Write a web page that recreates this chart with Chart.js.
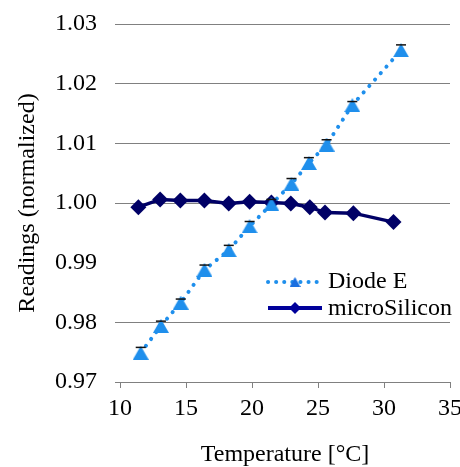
<!DOCTYPE html>
<html>
<head>
<meta charset="utf-8">
<script src="https://cdn.jsdelivr.net/npm/chart.js@4.4.1/dist/chart.umd.min.js"></script>
<style>
  html, body { margin: 0; padding: 0; background: #fff; }
  #wrap { width: 460px; height: 467px; }
</style>
</head>
<body>
<div id="wrap"><canvas id="tempChart" width="460" height="467"></canvas></div>
<script>
// values
const diodeTemps = [11.57, 13.1, 14.6, 16.4, 18.24, 19.82, 21.47, 22.99, 24.31, 25.65, 27.6, 31.29];
const diodeReadings = [0.9749, 0.9794, 0.9833, 0.9888, 0.9921, 0.9961, 0.9998, 1.0032, 1.0067, 1.0098, 1.0164, 1.0256];
const diodeErrors = [0.0009, 0.0008, 0.0006, 0.0008, 0.0008, 0.0008, 0.0008, 0.0009, 0.0009, 0.0008, 0.0006, 0.0009];

const siliconTemps = [11.39, 13.04, 14.57, 16.39, 18.24, 19.82, 21.47, 22.94, 24.38, 25.53, 27.68, 30.72];
const siliconReadings = [0.9993, 1.0006, 1.0004, 1.0004, 0.9999, 1.0002, 1.0001, 0.9999, 0.9993, 0.9984, 0.9983, 0.9968];

const seriesNames = ['Diode E', 'microSilicon'];
const xTicks = [10, 15, 20, 25, 30, 35];
const yTicks = [0.97, 0.98, 0.99, 1.00, 1.01, 1.02, 1.03];

const lightBlue = '#1f8fec';
const navy = '#000066';
const serif = "'Liberation Serif', 'Times New Roman', serif";

// triangle marker centred on its box, like the spreadsheet markers
function makeTriangle(w, h, color) {
    const c = document.createElement('canvas');
    c.width = w; c.height = h;
    const g = c.getContext('2d');
    g.fillStyle = color;
    g.beginPath();
    g.moveTo(w / 2, 0);
    g.lineTo(w, h);
    g.lineTo(0, h);
    g.closePath();
    g.fill();
    return c;
}
const triMarker = makeTriangle(16, 14, lightBlue);

// small error caps on the Diode E points (only the upper cap shows)
const errorBars = {
    id: 'errorBars',
    afterDatasetsDraw(chart) {
        const ctx = chart.ctx;
        const xs = chart.scales.x, ys = chart.scales.y;
        ctx.save();
        ctx.strokeStyle = '#111';
        ctx.lineWidth = 1.5;
        diodeTemps.forEach((t, i) => {
            const px = xs.getPixelForValue(t);
            const top = ys.getPixelForValue(diodeReadings[i] + diodeErrors[i]);
            ctx.beginPath();
            ctx.moveTo(px - 5, top); ctx.lineTo(px + 5, top);
            ctx.stroke();
        });
        ctx.restore();
    }
};

// legend sitting inside the plot, lower right
const innerLegend = {
    id: 'innerLegend',
    afterDraw(chart) {
        const ctx = chart.ctx;
        const x0 = 268, x1 = 322, tx = 328;
        const rows = [282, 308];
        ctx.save();
        ctx.fillStyle = '#fff';
        ctx.fillRect(262, 266, 193, 55);

        // Diode E sample
        ctx.strokeStyle = lightBlue;
        ctx.lineWidth = 4;
        ctx.lineCap = 'round';
        ctx.setLineDash([0.1, 8]);
        ctx.beginPath(); ctx.moveTo(x0, rows[0]); ctx.lineTo(x1, rows[0]); ctx.stroke();
        ctx.setLineDash([]);
        ctx.drawImage(makeTriangle(11, 10, '#1a6fe0'), (x0 + x1) / 2 - 5.5, rows[0] - 5);

        // microSilicon sample
        ctx.strokeStyle = '#00009a';
        ctx.lineWidth = 4;
        ctx.lineCap = 'butt';
        ctx.beginPath(); ctx.moveTo(x0, rows[1]); ctx.lineTo(x1, rows[1]); ctx.stroke();
        ctx.fillStyle = '#00009a';
        Chart.helpers.drawPoint(ctx, { pointStyle: 'rectRot', radius: 6, borderWidth: 0 }, (x0 + x1) / 2, rows[1]);

        ctx.fillStyle = '#000';
        ctx.font = '24px ' + serif;
        ctx.textBaseline = 'middle';
        ctx.textAlign = 'left';
        ctx.fillText(seriesNames[0], tx, rows[0]);
        ctx.fillText(seriesNames[1], tx, rows[1] + 1);
        ctx.restore();
    }
};

const ctx = document.getElementById('tempChart').getContext('2d');
new Chart(ctx, {
    type: 'line',
    data: {
        datasets: [
            {
                label: seriesNames[0],
                data: diodeTemps.map((t, i) => ({ x: t, y: diodeReadings[i] })),
                borderColor: lightBlue,
                backgroundColor: lightBlue,
                borderWidth: 4,
                borderDash: [0.1, 8.5],
                borderCapStyle: 'round',
                pointStyle: triMarker,
                pointRadius: 8,
                pointBorderWidth: 0,
                pointBackgroundColor: lightBlue,
                tension: 0
            },
            {
                label: seriesNames[1],
                data: siliconTemps.map((t, i) => ({ x: t, y: siliconReadings[i] })),
                borderColor: navy,
                backgroundColor: navy,
                borderWidth: 3.5,
                pointStyle: 'rectRot',
                pointRadius: 8,
                pointBorderWidth: 0,
                pointBackgroundColor: navy,
                tension: 0
            }
        ]
    },
    options: {
        responsive: false,
        animation: false,
        layout: { padding: { top: 24, right: 10, left: 0, bottom: 0 } },
        plugins: {
            legend: { display: false },
            tooltip: { enabled: false }
        },
        scales: {
            x: {
                type: 'linear',
                min: 10,
                max: 35,
                afterBuildTicks: scale => { scale.ticks = xTicks.map(v => ({ value: v })); },
                afterFit: scale => {
                    scale.height = 85;
                    scale.paddingLeft = 0;
                    scale.paddingRight = 0;
                },
                border: { display: true, color: '#808080', width: 1 },
                grid: { drawOnChartArea: false, drawTicks: true, tickLength: 6, color: '#808080' },
                ticks: { color: '#000', font: { family: serif, size: 24 }, padding: 6, maxRotation: 0 },
                title: {
                    display: true,
                    text: 'Temperature [°C]',
                    color: '#000',
                    font: { family: serif, size: 24, lineHeight: 1 },
                    padding: 0
                }
            },
            y: {
                type: 'linear',
                min: 0.97,
                max: 1.03,
                afterBuildTicks: scale => { scale.ticks = yTicks.map(v => ({ value: v })); },
                afterFit: scale => {
                    scale.width = 120;
                    scale.paddingTop = 0;
                    scale.paddingBottom = 0;
                },
                border: { display: false },
                grid: {
                    drawTicks: true,
                    tickLength: 5,
                    color: c => (c.tick && Math.abs(c.tick.value - 0.99) < 1e-6 ? 'rgba(0,0,0,0)' : '#808080')
                },
                ticks: {
                    color: '#000',
                    font: { family: serif, size: 24 },
                    padding: 18,
                    callback: v => v.toFixed(2)
                },
                title: {
                    display: true,
                    text: 'Readings (normalized)',
                    color: '#000',
                    font: { family: serif, size: 24, lineHeight: 1 },
                    padding: { top: 16, bottom: 0 }
                }
            }
        }
    },
    plugins: [errorBars, innerLegend]
});
</script>
</body>
</html>
